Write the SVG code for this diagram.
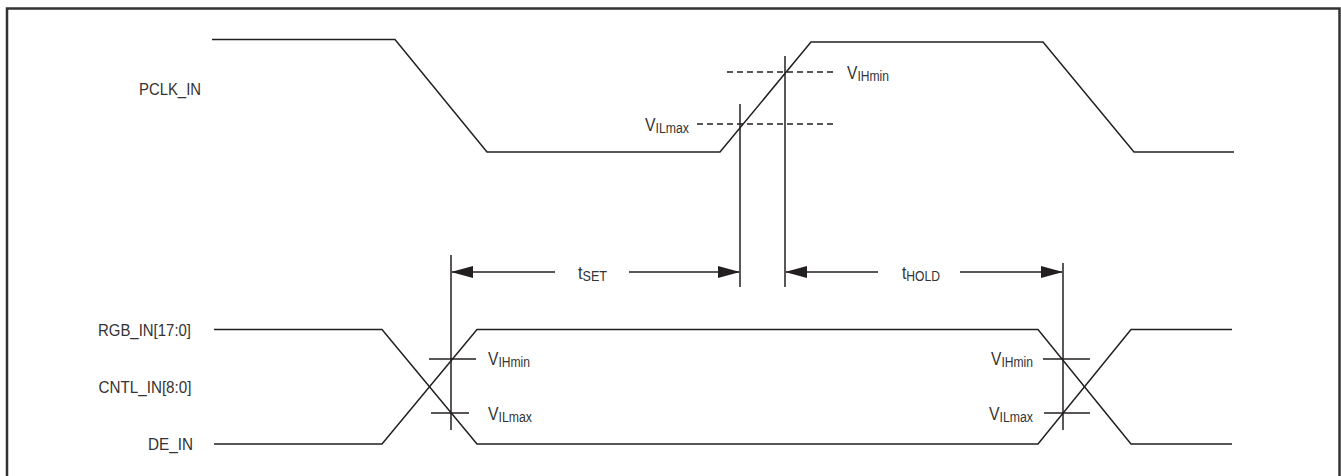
<svg xmlns="http://www.w3.org/2000/svg" width="1341" height="476" viewBox="0 0 1341 476">
<style>
.w{fill:none;stroke:#231f20;stroke-width:1.5;stroke-linejoin:miter}
.v{stroke:#231f20;stroke-width:1.5}
.d{stroke:#231f20;stroke-width:1.3;stroke-dasharray:6 4}
.t{font-family:"Liberation Sans",Arial,sans-serif;font-size:16.5px;fill:#333}
.m{font-size:18px}
.s{font-size:14px}
.a{stroke:#231f20;stroke-width:1.5;fill:none}
</style>
<defs>
<marker id="ah" markerUnits="userSpaceOnUse" markerWidth="22" markerHeight="12" refX="21" refY="6" orient="auto-start-reverse">
<path d="M0,0 L22,6 L0,12 z" fill="#231f20"/>
</marker>
</defs>
<rect width="1341" height="476" fill="#fff"/>
<path d="M7,480 V8.5 H1339.5 V480" fill="none" stroke="#333" stroke-width="2.5"/>

<g id="pclk">
<text class="t" x="139" y="95" textLength="62" lengthAdjust="spacingAndGlyphs">PCLK_IN</text>
<polyline class="w" points="212,39.5 395,39.5 487,152 720,152 811,42 1043,42 1134,152 1234,152"/>
</g>

<g id="thresholds-top">
<line class="d" x1="727" y1="72" x2="837" y2="72"/>
<line class="d" x1="697" y1="124" x2="837" y2="124"/>
<text class="t m" x="847" y="79" textLength="42" lengthAdjust="spacingAndGlyphs">V<tspan class="s" dy="2">IHmin</tspan></text>
<text class="t m" x="645" y="131" textLength="44" lengthAdjust="spacingAndGlyphs">V<tspan class="s" dy="2">ILmax</tspan></text>
</g>

<g id="data">
<text class="t" x="191" y="336" text-anchor="end" textLength="93" lengthAdjust="spacingAndGlyphs">RGB_IN[17:0]</text>
<text class="t" x="191.5" y="392.5" text-anchor="end" textLength="93" lengthAdjust="spacingAndGlyphs">CNTL_IN[8:0]</text>
<text class="t" x="193" y="450" text-anchor="end" textLength="45" lengthAdjust="spacingAndGlyphs">DE_IN</text>
<polyline class="w" points="214,329.5 382,329.5 477,444 1038,444 1131,329.5 1232,329.5"/>
<polyline class="w" points="214,444 382,444 477,329.5 1038,329.5 1131,444 1232,444"/>
</g>

<g id="thresholds-bottom">
<line class="v" x1="429" y1="359" x2="476" y2="359"/>
<line class="v" x1="431" y1="413" x2="469" y2="413"/>
<line class="v" x1="1043" y1="359" x2="1090" y2="359"/>
<line class="v" x1="1044" y1="413" x2="1090" y2="413"/>
<text class="t m" x="488" y="365" textLength="42" lengthAdjust="spacingAndGlyphs">V<tspan class="s" dy="2">IHmin</tspan></text>
<text class="t m" x="488" y="420" textLength="44" lengthAdjust="spacingAndGlyphs">V<tspan class="s" dy="2">ILmax</tspan></text>
<text class="t m" x="1033" y="365" text-anchor="end" textLength="42" lengthAdjust="spacingAndGlyphs">V<tspan class="s" dy="2">IHmin</tspan></text>
<text class="t m" x="1033" y="420" text-anchor="end" textLength="44" lengthAdjust="spacingAndGlyphs">V<tspan class="s" dy="2">ILmax</tspan></text>
</g>

<g id="connectors">
<line class="v" x1="740" y1="104" x2="740" y2="287"/>
<line class="v" x1="785" y1="56" x2="785" y2="287"/>
<line class="v" x1="451" y1="255" x2="451" y2="430"/>
<line class="v" x1="1063" y1="263" x2="1063" y2="430"/>
<line class="a" x1="555" y1="272" x2="452" y2="272" marker-end="url(#ah)"/>
<line class="a" x1="629" y1="272" x2="739" y2="272" marker-end="url(#ah)"/>
<line class="a" x1="878" y1="272" x2="786" y2="272" marker-end="url(#ah)"/>
<line class="a" x1="960" y1="272" x2="1062" y2="272" marker-end="url(#ah)"/>
</g>

<g id="timing-labels">
<text class="t m" x="578" y="279" textLength="29" lengthAdjust="spacingAndGlyphs">t<tspan class="s" dy="2">SET</tspan></text>
<text class="t m" x="902" y="279" textLength="38" lengthAdjust="spacingAndGlyphs">t<tspan class="s" dy="2">HOLD</tspan></text>
</g>
</svg>
